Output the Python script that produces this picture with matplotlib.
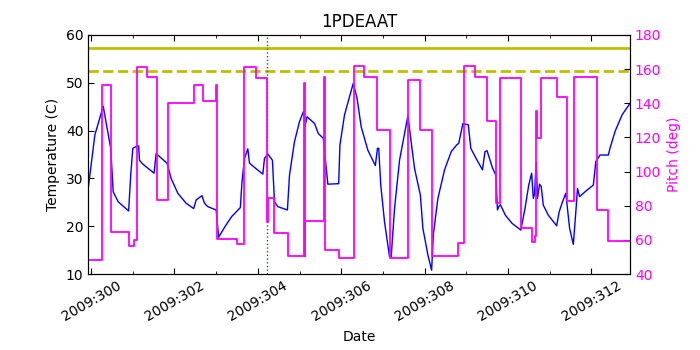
#!/usr/bin/env python3
# 1PDEAAT temperature vs pitch plot

import matplotlib
matplotlib.use('Agg')
import matplotlib.pyplot as plt
from matplotlib.ticker import MultipleLocator, FuncFormatter

# --- DATA (day of year 2009) ---
temp_day = [299.93, 300.09, 300.29, 300.47, 300.53, 300.65, 300.90, 300.95, 301.00,
            301.11, 301.14, 301.16, 301.24, 301.51, 301.56, 301.82, 301.92, 302.08,
            302.28, 302.46, 302.52, 302.66, 302.72, 302.80, 303.00, 303.06, 303.21,
            303.37, 303.58, 303.62, 303.68, 303.76, 303.80, 303.92, 304.12, 304.16,
            304.24, 304.35, 304.40, 304.48, 304.71, 304.76, 304.88, 305.00, 305.10,
            305.13, 305.18, 305.36, 305.45, 305.57, 305.68, 305.94, 305.97, 306.08,
            306.20, 306.29, 306.38, 306.48, 306.64, 306.82, 306.87, 306.90, 306.95,
            307.04, 307.16, 307.20, 307.28, 307.40, 307.60, 307.76, 307.90, 307.96,
            308.08, 308.17, 308.21, 308.32, 308.48, 308.64, 308.78, 308.82, 308.92,
            309.05, 309.11, 309.23, 309.39, 309.45, 309.50, 309.63, 309.71, 309.75,
            309.78, 309.82, 309.94, 310.10, 310.31, 310.41, 310.50, 310.57, 310.61,
            310.64, 310.68, 310.71, 310.76, 310.80, 310.85, 310.97, 311.17, 311.23,
            311.31, 311.39, 311.48, 311.57, 311.63, 311.67, 311.72, 311.89, 312.05,
            312.11, 312.21, 312.41, 312.45, 312.57, 312.74, 312.93]
temp_val = [27.9, 39.1, 45.1, 36.3, 27.2, 25.1, 23.2, 30.7, 36.3,
            36.8, 36.8, 33.8, 33.0, 31.1, 35.2, 33.2, 30.0, 26.9,
            24.8, 23.7, 25.5, 26.4, 24.8, 24.1, 23.4, 17.7, 19.9,
            22.0, 23.9, 29.3, 34.2, 36.2, 33.2, 32.3, 30.9, 34.2,
            35.1, 33.8, 25.1, 24.1, 23.4, 30.7, 37.7, 41.9, 44.1,
            40.8, 42.9, 41.5, 39.4, 38.4, 28.8, 28.9, 37.0, 43.3,
            47.1, 49.9, 46.8, 40.8, 35.9, 32.7, 36.3, 36.3, 28.6,
            20.9, 13.6, 13.6, 23.7, 33.8, 43.1, 32.1, 26.5, 19.6,
            14.0, 10.8, 18.2, 25.8, 31.8, 35.6, 37.1, 37.3, 41.5,
            41.2, 36.3, 34.3, 31.8, 35.6, 35.8, 32.2, 30.7, 23.4,
            24.1, 24.5, 22.3, 20.6, 19.2, 23.7, 28.6, 31.1, 25.8,
            26.8, 33.4, 25.8, 28.8, 28.3, 24.4, 22.3, 20.1, 23.0,
            25.1, 26.9, 19.6, 16.2, 23.0, 27.9, 26.2, 27.5, 28.6,
            33.5, 34.9, 34.9, 36.3, 39.8, 43.3, 45.7]

pitch_day = [299.93, 300.26, 300.47, 300.90, 301.03, 301.09, 301.35, 301.58, 301.84,
             302.48, 302.68, 303.00, 303.02, 303.50, 303.66, 303.96, 304.22, 304.24,
             304.39, 304.72, 305.10, 305.12, 305.14, 305.58, 305.60, 305.94, 306.30,
             306.55, 306.87, 307.18, 307.61, 307.90, 308.17, 308.80, 308.95, 309.22,
             309.50, 309.71, 309.80, 310.31, 310.57, 310.65, 310.68, 310.71, 310.80,
             311.17, 311.41, 311.59, 312.15, 312.41, 312.93]
pitch_val = [48.2, 150.7, 64.4, 56.4, 60.0, 161.4, 155.6, 83.2, 140.4,
             150.7, 141.3, 150.7, 60.5, 57.6, 161.4, 155.0, 70.6, 84.3,
             63.8, 50.7, 152.0, 50.7, 71.2, 155.6, 54.0, 49.2, 161.9,
             155.6, 124.5, 49.6, 153.5, 124.3, 50.7, 58.0, 162.0, 155.6,
             129.6, 81.4, 154.6, 67.1, 58.6, 62.0, 135.5, 119.9, 154.6,
             143.7, 82.8, 155.6, 77.5, 59.5, 59.5]

planning_limit = 57.3
caution_limit = 52.5
marker_day = 304.23

# --- PLOT ---
plt.rcParams['font.size'] = 10
plt.rcParams['xtick.direction'] = 'in'
plt.rcParams['ytick.direction'] = 'in'

fig = plt.figure(figsize=(7, 3.5), dpi=100)
ax = fig.add_axes([0.126, 0.217, 0.774, 0.683])

ax.plot(temp_day, temp_val, color='b', lw=1.0, zorder=3)
ax.axhline(planning_limit, color=(0.75, 0.75, 0), lw=2.0)
ax.axhline(caution_limit, color=(0.75, 0.75, 0), lw=2.0, ls='--')
ax.axvline(marker_day, color=(0, 0.5, 0), lw=1.0, ls=':')

ax.set_xlim(temp_day[0], temp_day[-1])
ax.set_ylim(10, 60)
ax.set_yticks([10, 20, 30, 40, 50, 60])
ax.xaxis.set_major_locator(MultipleLocator(2))
ax.xaxis.set_minor_locator(MultipleLocator(1))
ax.xaxis.set_major_formatter(FuncFormatter(lambda d, pos: '2009:%03d' % round(d)))
ax.tick_params(which='both', top=True)
ax.tick_params(which='major', length=4)
ax.tick_params(which='minor', length=2)
for lbl in ax.get_xticklabels():
    lbl.set_rotation(30)
    lbl.set_ha('center')
ax.set_xlabel('Date')
ax.set_ylabel('Temperature (C)')
ax.set_title('1PDEAAT', fontsize=12)

ax2 = ax.twinx()
ax2.plot(pitch_day, pitch_val, color='magenta', lw=1.3, drawstyle='steps-post')
ax2.set_ylim(40, 180)
ax2.set_yticks(range(40, 181, 20))
ax2.tick_params(axis='y', labelcolor='magenta', length=4)
ax2.set_ylabel('Pitch (deg)', color='magenta')
ax2.set_xlim(temp_day[0], temp_day[-1])

fig.savefig('out.png')
